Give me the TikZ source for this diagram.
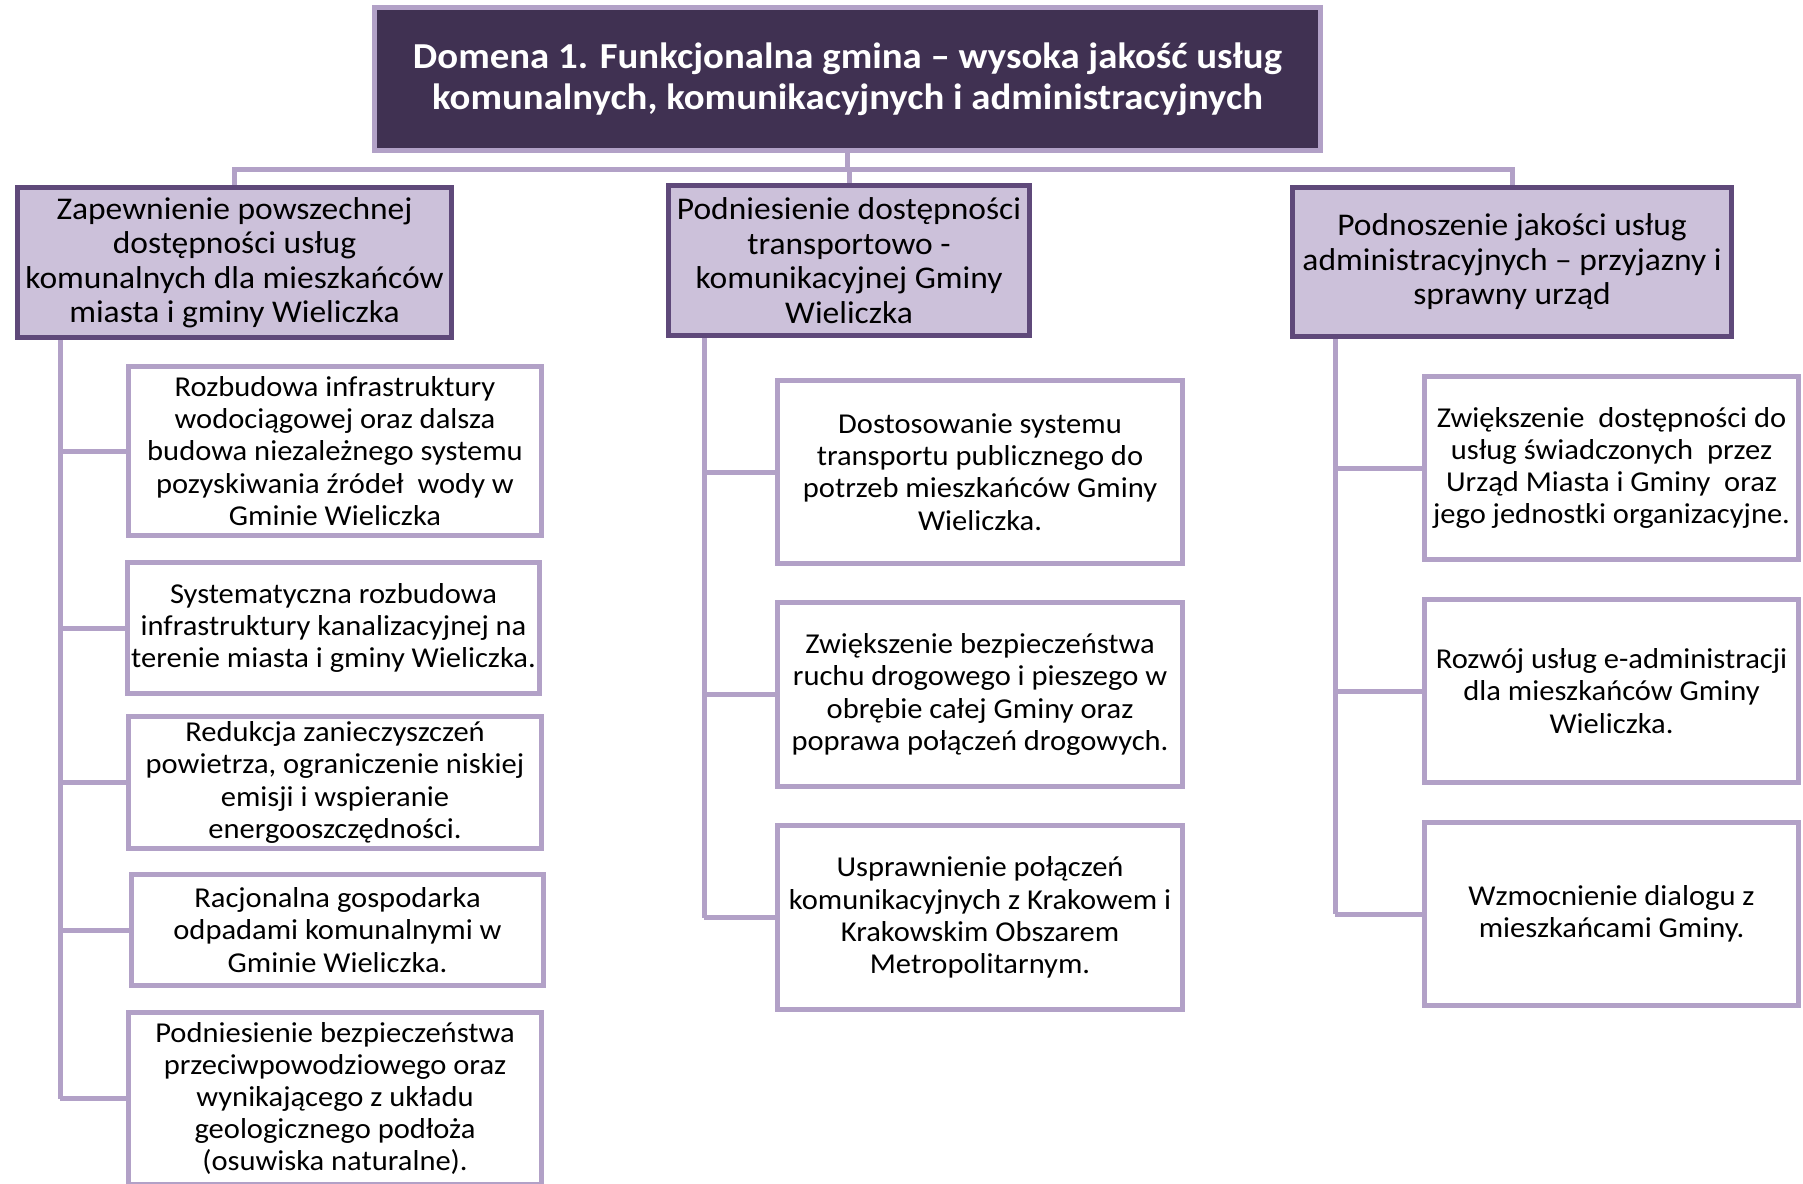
\documentclass[tikz,border=0pt]{standalone}
\usepackage{fontspec}
\setmainfont[FakeStretch=1.06]{Carlito}
\usetikzlibrary{backgrounds}
\definecolor{dpurp}{HTML}{403152}
\definecolor{lpurp}{HTML}{B2A1C7}
\definecolor{mpurp}{HTML}{5F497A}
\definecolor{fpurp}{HTML}{CCC1DA}
\newcommand\mkbox[7]{%
  \pgfmathsetmacro\mybw{(#4-#2-5)*0.5}%
  \pgfmathsetmacro\mybh{(#5-#3-5)*0.5}%
  \node[#6, minimum width=\mybw pt, minimum height=\mybh pt] (#1) at ({(#2+#4)/2},{(#3+#5)/2}) {#7};}
\tikzset{
  topbox/.style={draw=lpurp, fill=dpurp, line width=2.5pt, text=white, inner sep=0pt, align=center,
    font=\fontsize{18.3}{20.7}\selectfont\bfseries},
  midbox/.style={draw=mpurp, fill=fpurp, line width=2.5pt, inner sep=0pt, align=center,
    font=\fontsize{15.8}{17.25}\selectfont},
  leafbox/.style={draw=lpurp, fill=white, line width=2.5pt, inner sep=0pt, align=center,
    font=\fontsize{14.4}{16.1}\selectfont},
  conn/.style={draw=lpurp, line width=2.5pt}
}
\begin{document}
\begin{tikzpicture}[x=0.5pt, y=-0.5pt]
\useasboundingbox (0,0) rectangle (1803,1183);
\begin{scope}[on background layer]
  \fill[white] (0,0) rectangle (1803,1183);
\end{scope}

% top
\mkbox{top}{372}{5}{1323}{153}{topbox}{Domena 1. Funkcjonalna gmina – wysoka jakość usług\\komunalnych, komunikacyjnych i administracyjnych}

% level 2
\mkbox{B1}{15}{185}{454}{340}{midbox}{Zapewnienie powszechnej\\dostępności usług\\komunalnych dla mieszkańców\\miasta i gminy Wieliczka}
\mkbox{B2}{666}{183}{1032}{338}{midbox}{Podniesienie dostępności\\transportowo -\\komunikacyjnej Gminy\\Wieliczka}
\mkbox{B3}{1290}{185}{1734}{339}{midbox}{Podnoszenie jakości usług\\administracyjnych – przyjazny i\\sprawny urząd}

% column 1
\mkbox{c1}{126}{364}{544}{538}{leafbox}{Rozbudowa infrastruktury\\wodociągowej oraz dalsza\\budowa niezależnego systemu\\pozyskiwania źródeł~ wody w\\Gminie Wieliczka}
\mkbox{c2}{125}{560}{542}{696}{leafbox}{Systematyczna rozbudowa\\infrastruktury kanalizacyjnej na\\terenie miasta i gminy Wieliczka.}
\mkbox{c3}{126}{714}{544}{851}{leafbox}{Redukcja zanieczyszczeń\\powietrza, ograniczenie niskiej\\emisji i wspieranie\\energooszczędności.}
\mkbox{c4}{129}{872}{546}{988}{leafbox}{Racjonalna gospodarka\\odpadami komunalnymi w\\Gminie Wieliczka.}
\mkbox{c5}{126}{1010}{544}{1187}{leafbox}{Podniesienie bezpieczeństwa\\przeciwpowodziowego oraz\\wynikającego z układu\\geologicznego podłoża\\(osuwiska naturalne).}

% column 2
\mkbox{d1}{775}{378}{1185}{566}{leafbox}{Dostosowanie systemu\\transportu publicznego do\\potrzeb mieszkańców Gminy\\Wieliczka.}
\mkbox{d2}{775}{600}{1185}{789}{leafbox}{Zwiększenie bezpieczeństwa\\ruchu drogowego i pieszego w\\obrębie całej Gminy oraz\\poprawa połączeń drogowych.}
\mkbox{d3}{775}{823}{1185}{1012}{leafbox}{Usprawnienie połączeń\\komunikacyjnych z Krakowem i\\Krakowskim Obszarem\\Metropolitarnym.}

% column 3
\mkbox{e1}{1422}{374}{1801}{562}{leafbox}{Zwiększenie~ dostępności do\\usług świadczonych~ przez\\Urząd Miasta i Gminy~ oraz\\jego jednostki organizacyjne.}
\mkbox{e2}{1422}{597}{1801}{785}{leafbox}{Rozwój usług e-administracji\\dla mieszkańców Gminy\\Wieliczka.}
\mkbox{e3}{1422}{820}{1801}{1008}{leafbox}{Wzmocnienie dialogu z\\mieszkańcami Gminy.}

\coordinate (bar) at (849,169);
\coordinate (sp1) at (60,338);
\coordinate (sp2) at (704,336);
\coordinate (sp3) at (1335,337);

\begin{scope}[on background layer]
  \draw[conn] (top.south) -- (top.south |- bar);
  \draw[conn] (B1.north) -- (B1.north |- bar) -- (B3.north |- bar) -- (B3.north);
  \draw[conn] (B2.north) -- (B2.north |- bar);
  \draw[conn] (sp1) -- (sp1 |- c5.west);
  \foreach \n in {c1,c2,c3,c4,c5} \draw[conn] (\n.west) -- (\n.west -| sp1);
  \draw[conn] (sp2) -- (sp2 |- d3.west);
  \foreach \n in {d1,d2,d3} \draw[conn] (\n.west) -- (\n.west -| sp2);
  \draw[conn] (sp3) -- (sp3 |- e3.west);
  \foreach \n in {e1,e2,e3} \draw[conn] (\n.west) -- (\n.west -| sp3);
\end{scope}
\end{tikzpicture}
\end{document}
